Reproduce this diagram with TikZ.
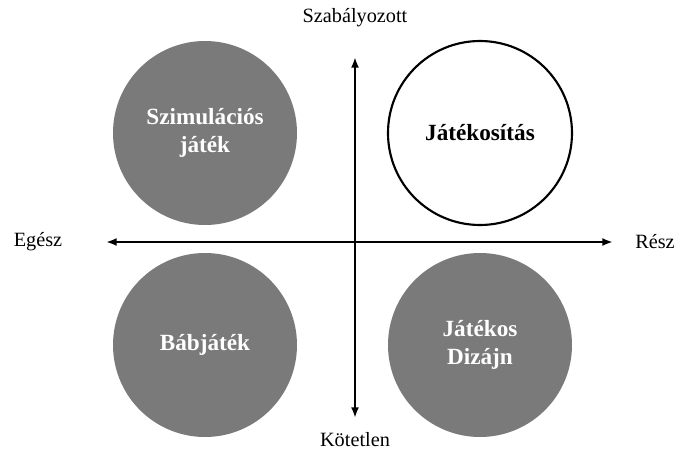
\documentclass[tikz,border=0pt]{standalone}
\usepackage{fontspec}
\setmainfont{Liberation Serif}
\usetikzlibrary{positioning,arrows.meta}
\definecolor{quadgray}{RGB}{122,122,122}
\tikzset{quad/.style = {circle, minimum size=138pt, inner sep=0pt, align=center, font=\fontsize{17.4}{21.5}\selectfont\bfseries},
         axislabel/.style = {font=\fontsize{15.2}{17}\selectfont},
         axis/.style = {line width=1.6pt, {Latex[length=8pt,width=6pt]}-{Latex[length=8pt,width=6pt]}}}

\begin{document}
\begin{tikzpicture}[x=0.75pt,y=-0.75pt]
        \useasboundingbox (0,0) rectangle (683,454);

        \node [quad, fill=quadgray, text=white] (SZ) at (205,133) {Szimulációs\\játék};
        \node [quad, draw=black, line width=1.6pt] (JA) at (480,133) {Játékosítás};
        \node [quad, fill=quadgray, text=white] (BA) at (205,345) {Bábjáték};
        \node [quad, fill=quadgray, text=white] (JD) at (480,345) {Játékos\\Dizájn};

        \coordinate (N) at (355,57);
        \coordinate (S) at (355,418);
        \coordinate (W) at (106,242);
        \coordinate (E) at (613,242);

        \draw [axis] (W) -- (E);
        \draw [axis] (S) -- (N);

        \node [axislabel] (top) at (355,18) {Szabályozott};
        \node [axislabel] (bottom) at (355,440) {Kötetlen};
        \node [axislabel] (left) at (38,242) {Egész};
        \node [axislabel] (right) at (655,242) {Rész};
    \end{tikzpicture}
\end{document}
